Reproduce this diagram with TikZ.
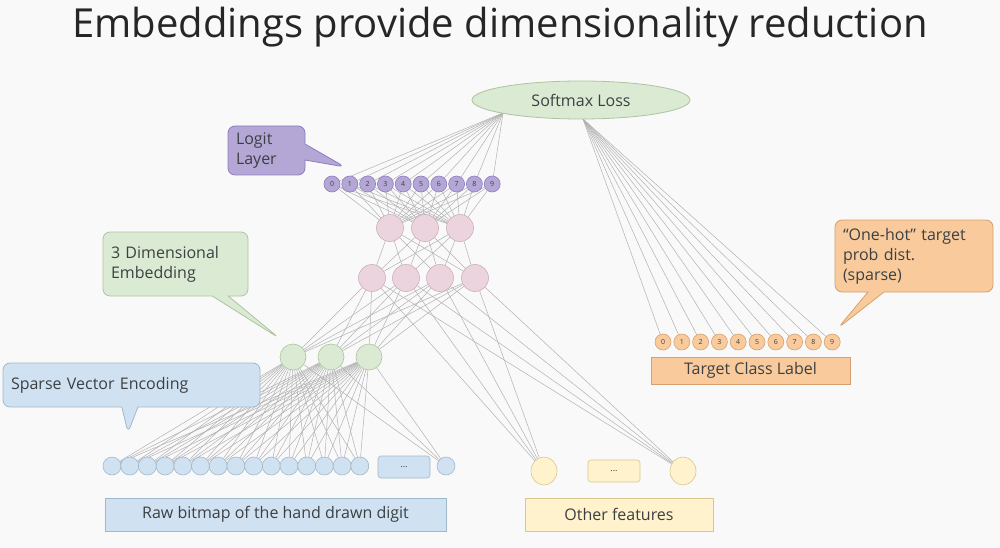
\documentclass[tikz,border=0pt]{standalone}
\usepackage{fontspec}
\setmainfont{Open Sans}
\usetikzlibrary{positioning,shapes.geometric,shapes.callouts,backgrounds}
\definecolor{bgc}{RGB}{249,249,249}
\definecolor{txt}{RGB}{60,64,67}
\definecolor{edgec}{RGB}{178,178,178}
\definecolor{purpf}{RGB}{180,167,214}
\definecolor{purpd}{RGB}{142,124,195}
\definecolor{pinkf}{RGB}{236,212,222}
\definecolor{pinkd}{RGB}{205,175,188}
\definecolor{greenf}{RGB}{219,234,211}
\definecolor{greend}{RGB}{172,196,160}
\definecolor{bluef}{RGB}{208,226,242}
\definecolor{blued}{RGB}{160,184,204}
\definecolor{yelf}{RGB}{255,242,204}
\definecolor{yeld}{RGB}{214,200,142}
\definecolor{orf}{RGB}{249,203,156}
\definecolor{ord}{RGB}{214,160,112}
\begin{document}
\begin{tikzpicture}[x=1pt,y=-1pt,
  font=\fontsize{16}{20}\selectfont, text=txt,
  unit/.style={circle,draw,line width=0.6pt,inner sep=0pt},
  logit/.style={unit,fill=purpf,draw=purpd,minimum size=16pt,font=\fontsize{7}{8}\selectfont},
  hid/.style={unit,fill=pinkf,draw=pinkd,minimum size=27pt},
  emb/.style={unit,fill=greenf,draw=greend,minimum size=26pt},
  inp/.style={unit,fill=bluef,draw=blued,minimum size=18pt},
  oth/.style={ellipse,draw,line width=0.6pt,fill=yelf,draw=yeld,minimum width=26pt,minimum height=28pt,inner sep=0pt},
  tgt/.style={unit,fill=orf,draw=ord,minimum size=16pt,font=\fontsize{7}{8}\selectfont},
  dots/.style={draw,rounded corners=3pt,line width=0.6pt,minimum width=52pt,minimum height=22pt,font=\fontsize{9}{10}\selectfont},
  lab/.style={draw,line width=0.8pt,inner sep=0pt},
  note/.style={rectangle callout,rounded corners=7pt,draw,line width=0.8pt,align=left,
    inner xsep=8pt,inner ysep=4pt,callout pointer width=16pt},
  edge/.style={draw=edgec,line width=0.5pt},
]
\useasboundingbox (0,0) rectangle (1000,548);
% title
\node[font=\fontsize{40}{48}\selectfont,text=black!85] (title) at (500,27) {Embeddings provide dimensionality reduction};
% loss
\node[ellipse,draw=greend,fill=greenf,line width=0.8pt,minimum width=218pt,minimum height=38pt] (loss) at (581,100) {Softmax Loss};
\coordinate (lossL) at (503,113);
\coordinate (lossR) at (583,119);
% layers of the network
\foreach \i in {0,...,9} \node[logit] (lg\i) at ({332+17.8*\i},184) {\i};
\foreach \i/\x in {1/390,2/425,3/460} \node[hid] (hb\i) at (\x,228) {};
\foreach \i/\x in {1/372,2/406,3/440,4/475} \node[hid] (ha\i) at (\x,278) {};
\foreach \i/\x in {1/293,2/331,3/369} \node[emb] (em\i) at (\x,357) {};
\foreach \i in {1,...,15} \node[inp] (in\i) at ({112+17.7*(\i-1)},466) {};
\node[dots,fill=bluef,draw=blued] (inDots) at (404,467) {...};
\node[inp] (in16) at (446,466) {};
\node[oth] (of1) at (544,471) {};
\node[dots,fill=yelf,draw=yeld] (ofDots) at (614,471) {...};
\node[oth] (of2) at (683,471) {};
% target side
\foreach \i in {0,...,9} \node[tgt] (tg\i) at ({663+18.8*\i},342) {\i};
\node[lab,fill=orf,draw=ord,minimum width=199pt,minimum height=27pt] (tlabel) at (750.5,370.5) {Target Class Label};
% input labels
\node[lab,fill=bluef,draw=blued,minimum width=341pt,minimum height=33pt] (rawlabel) at (275.5,514.5) {Raw bitmap of the hand drawn digit};
\node[lab,fill=yelf,draw=yeld,minimum width=188pt,minimum height=33pt] (othlabel) at (619,514.5) {Other features};
% callouts
\node[note,fill=purpf,draw=purpd,text width=61pt,minimum height=49pt,callout absolute pointer={(345,167)}] (logitnote) at (266.5,150.5) {Logit\\Layer};
\node[note,fill=greenf,draw=greend,text width=129pt,minimum height=64pt,callout absolute pointer={(279,338)}] (embnote) at (175.5,264) {3 Dimensional\\Embedding};
\node[note,fill=bluef,draw=blued,text width=241pt,minimum height=44pt,callout absolute pointer={(128,433)}] (sparsenote) at (131.5,385) {Sparse Vector Encoding};
\node[note,fill=orf,draw=ord,text width=142pt,minimum height=72pt,callout absolute pointer={(838,328)}] (hotnote) at (914,256) {“One-hot” target\\prob dist.\\(sparse)};
% connections
\begin{scope}[on background layer]
\fill[bgc] (0,0) rectangle (1000,548);
\foreach \i in {0,...,9} {
  \draw[edge] (lossL) -- (lg\i);
  \draw[edge] (lossR) -- (tg\i);
  \foreach \j in {1,2,3} \draw[edge] (lg\i) -- (hb\j);
}
\foreach \i in {1,2,3} \foreach \j in {1,...,4} \draw[edge] (hb\i) -- (ha\j);
\foreach \i in {1,...,4} {
  \foreach \j in {1,2,3} \draw[edge] (ha\i) -- (em\j);
  \draw[edge] (ha\i) -- (of1);
  \draw[edge] (ha\i) -- (of2);
}
\foreach \i in {1,2,3} \foreach \j in {1,...,16} \draw[edge] (em\i) -- (in\j);
\end{scope}
\end{tikzpicture}
\end{document}
